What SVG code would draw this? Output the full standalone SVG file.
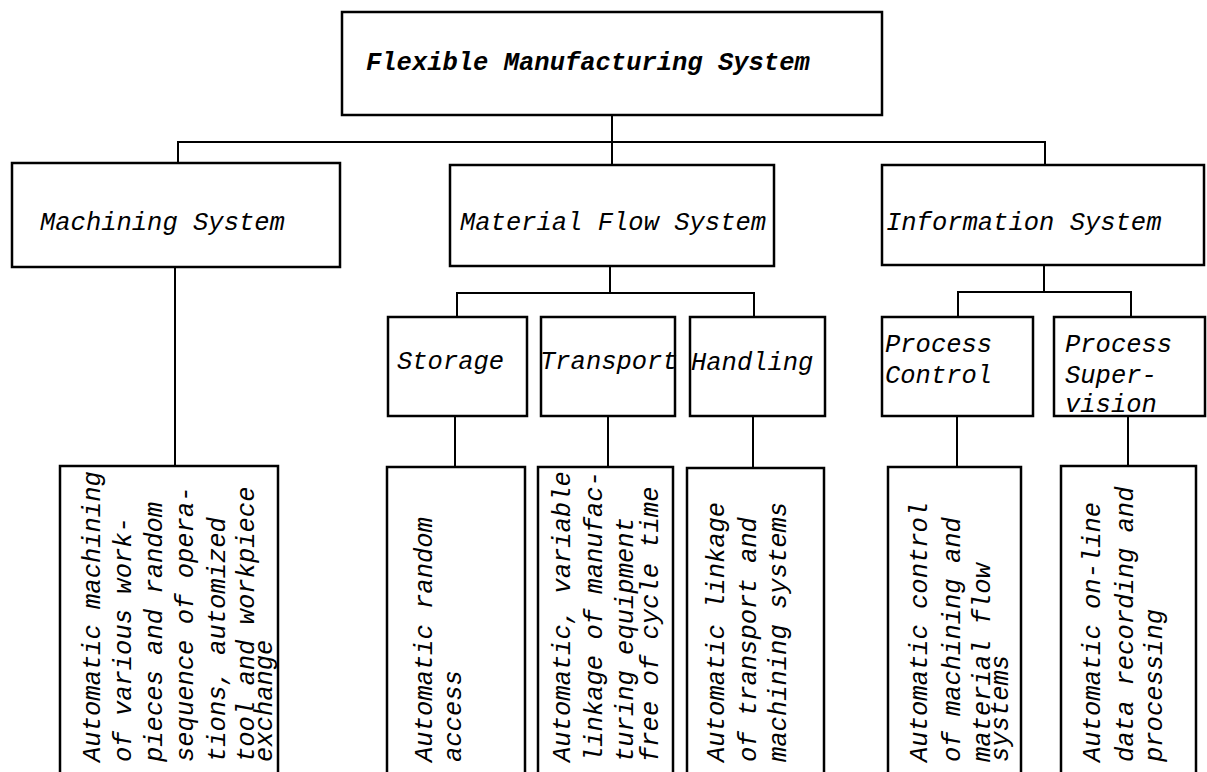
<svg xmlns="http://www.w3.org/2000/svg" width="1207" height="772" viewBox="0 0 1207 772">
<style>
.box{fill:#fff;stroke:#000;stroke-width:2.5}
.open{fill:none;stroke:#000;stroke-width:2.5}
.conn{fill:none;stroke:#000;stroke-width:2}
text{font-family:"Liberation Mono","DejaVu Sans Mono",monospace;font-size:25.5px;font-style:italic;fill:#000}
.title{font-weight:bold}
</style>
<rect width="1207" height="772" fill="#fff"/>
<g id="connectors" class="conn">
<path d="M612,115 V165"/>
<path d="M178,163 V142 H1045 V165"/>
<path d="M175,267 V466"/>
<path d="M610,266 V293"/>
<path d="M457,317 V293 H754 V317"/>
<path d="M1044,265 V292"/>
<path d="M958,317 V292 H1131 V317"/>
<path d="M455,416 V467"/>
<path d="M608,416 V467"/>
<path d="M753,416 V468"/>
<path d="M957,416 V467"/>
<path d="M1128,416 V466"/>
</g>
<g id="fms">
<rect class="box" x="342" y="12" width="540" height="103"/>
<text class="title" x="366" y="70">Flexible Manufacturing System</text>
</g>
<g id="machining">
<rect class="box" x="12" y="163" width="328" height="104"/>
<text x="40" y="230">Machining System</text>
</g>
<g id="materialflow">
<rect class="box" x="450" y="165" width="324" height="101"/>
<text x="460" y="230">Material Flow System</text>
</g>
<g id="information">
<rect class="box" x="882" y="165" width="322" height="100"/>
<text x="886" y="230">Information System</text>
</g>
<g id="storage">
<rect class="box" x="388" y="317" width="139" height="99"/>
<text x="397" y="369">Storage</text>
</g>
<g id="transport">
<rect class="box" x="541" y="317" width="134" height="99"/>
<text x="540" y="369">Transport</text>
</g>
<g id="handling">
<rect class="box" x="690" y="317" width="135" height="99"/>
<text x="691" y="370">Handling</text>
</g>
<g id="processcontrol">
<rect class="box" x="882" y="317" width="151" height="99"/>
<text x="885" y="352">Process</text>
<text x="885" y="383">Control</text>
</g>
<g id="processsupervision">
<rect class="box" x="1054" y="317" width="151" height="99"/>
<text x="1065" y="352">Process</text>
<text x="1065" y="383">Super-</text>
<text x="1065" y="412">vision</text>
</g>
<g id="desc-machining">
<path class="open" d="M60,772 V466 H278 V772"/>
<text transform="translate(100,762) rotate(-90)">Automatic machining</text>
<text transform="translate(131,762) rotate(-90)">of various work-</text>
<text transform="translate(162,762) rotate(-90)">pieces and random</text>
<text transform="translate(193,762) rotate(-90)">sequence of opera-</text>
<text transform="translate(225,762) rotate(-90)">tions, automized</text>
<text transform="translate(254,762) rotate(-90)">tool  and workpiece</text>
<text transform="translate(272,762) rotate(-90)">exchange</text>
</g>
<g id="desc-storage">
<path class="open" d="M387,772 V467 H525 V772"/>
<text transform="translate(432,762) rotate(-90)">Automatic random</text>
<text transform="translate(461,762) rotate(-90)">access</text>
</g>
<g id="desc-transport">
<path class="open" d="M538,772 V467 H673 V772"/>
<text transform="translate(570,762) rotate(-90)">Automatic, variable</text>
<text transform="translate(602,762) rotate(-90)">linkage of manufac-</text>
<text transform="translate(633,762) rotate(-90)">turing equipment</text>
<text transform="translate(658,762) rotate(-90)">free of cycle time</text>
</g>
<g id="desc-handling">
<path class="open" d="M687,772 V468 H824 V772"/>
<text transform="translate(724,762) rotate(-90)">Automatic linkage</text>
<text transform="translate(756,762) rotate(-90)">of transport and</text>
<text transform="translate(786,762) rotate(-90)">machining systems</text>
</g>
<g id="desc-processcontrol">
<path class="open" d="M888,772 V467 H1021 V772"/>
<text transform="translate(927,762) rotate(-90)">Automatic control</text>
<text transform="translate(960,762) rotate(-90)">of machining and</text>
<text transform="translate(990,762) rotate(-90)">material flow</text>
<text transform="translate(1008,762) rotate(-90)">systems</text>
</g>
<g id="desc-processsupervision">
<path class="open" d="M1061,772 V466 H1196 V772"/>
<text transform="translate(1100,762) rotate(-90)">Automatic on-line</text>
<text transform="translate(1133,762) rotate(-90)">data recording and</text>
<text transform="translate(1162,762) rotate(-90)">processing</text>
</g>
</svg>
